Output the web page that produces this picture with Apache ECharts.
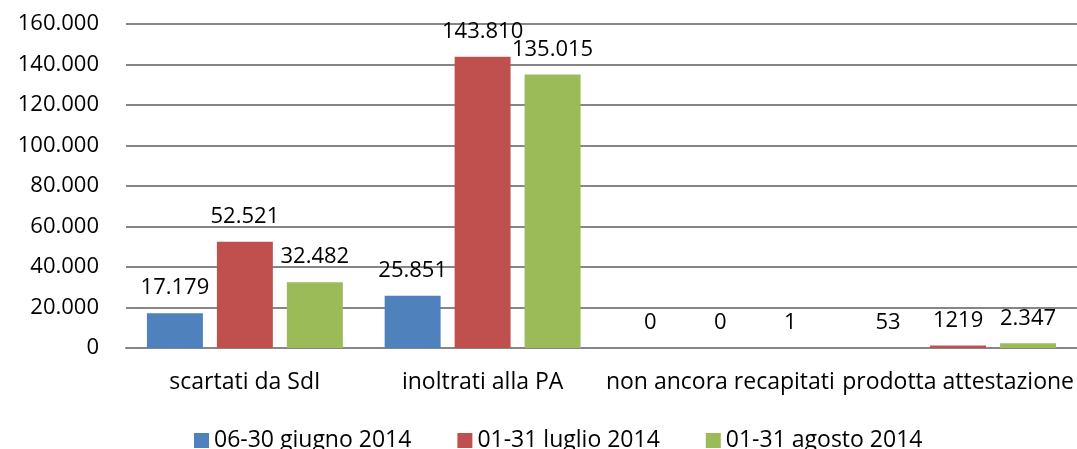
<!DOCTYPE html>
<html><head><meta charset="utf-8">
<script src="https://cdn.jsdelivr.net/npm/echarts@6/dist/echarts.min.js"></script>
<style>html,body{margin:0;padding:0;background:#fff}#c{width:1077px;height:449px}</style>
</head><body><div id="c"></div>
<script>
const categories = ['scartati da SdI', 'inoltrati alla PA', 'non ancora recapitati', 'prodotta attestazione'];
const seriesNames = ['06-30 giugno 2014', '01-31 luglio 2014', '01-31 agosto 2014'];
const giugno = [17179, 25851, 0, 53];
const luglio = [52521, 143810, 0, 1219];
const agosto = [32482, 135015, 1, 2347];
const giugnoLabels = ['17.179', '25.851', '0', '53'];
const luglioLabels = ['52.521', '143.810', '0', '1219'];
const agostoLabels = ['32.482', '135.015', '1', '2.347'];
const colors = ['#4F81BD', '#C0504D', '#9BBB59'];

const FONT = 'Open Sans';
const fmt = v => String(v).replace(/\B(?=(\d{3})+(?!\d))/g, '.');

function mk(name, data, labels, color) {
  return {
    name, type: 'bar', data,
    barGap: '25%', barCategoryGap: '17.6%',
    itemStyle: { color },
    label: {
      show: true, position: 'top', distance: 14,
      fontFamily: FONT, fontSize: 22, color: '#000',
      formatter: p => labels[p.dataIndex]
    }
  };
}

const chart = echarts.init(document.getElementById('c'), null, { renderer: 'canvas' });
chart.setOption({
  animation: false,
  color: colors,
  grid: { left: 126, right: 0, top: 24, bottom: 101, containLabel: false },
  legend: {
    top: 424, left: 189,
    itemWidth: 15, itemHeight: 15, itemGap: 46,
    icon: 'rect',
    textStyle: { fontFamily: FONT, fontSize: 23, color: '#000' },
    data: seriesNames
  },
  xAxis: {
    type: 'category', data: categories,
    axisLine: { show: true, lineStyle: { color: '#868686', width: 2 } },
    axisTick: { show: false },
    axisLabel: { interval: 0, margin: 23, fontFamily: FONT, fontSize: 23, color: '#000', hideOverlap: false }
  },
  yAxis: {
    type: 'value', min: 0, max: 160000, interval: 20000,
    axisLine: { show: false }, axisTick: { show: false },
    splitLine: { lineStyle: { color: '#868686', width: 2 } },
    axisLabel: { margin: 27, fontFamily: FONT, fontSize: 22, color: '#000', formatter: fmt }
  },
  series: [
    mk(seriesNames[0], giugno, giugnoLabels, colors[0]),
    mk(seriesNames[1], luglio, luglioLabels, colors[1]),
    mk(seriesNames[2], agosto, agostoLabels, colors[2])
  ]
});
</script></body></html>
